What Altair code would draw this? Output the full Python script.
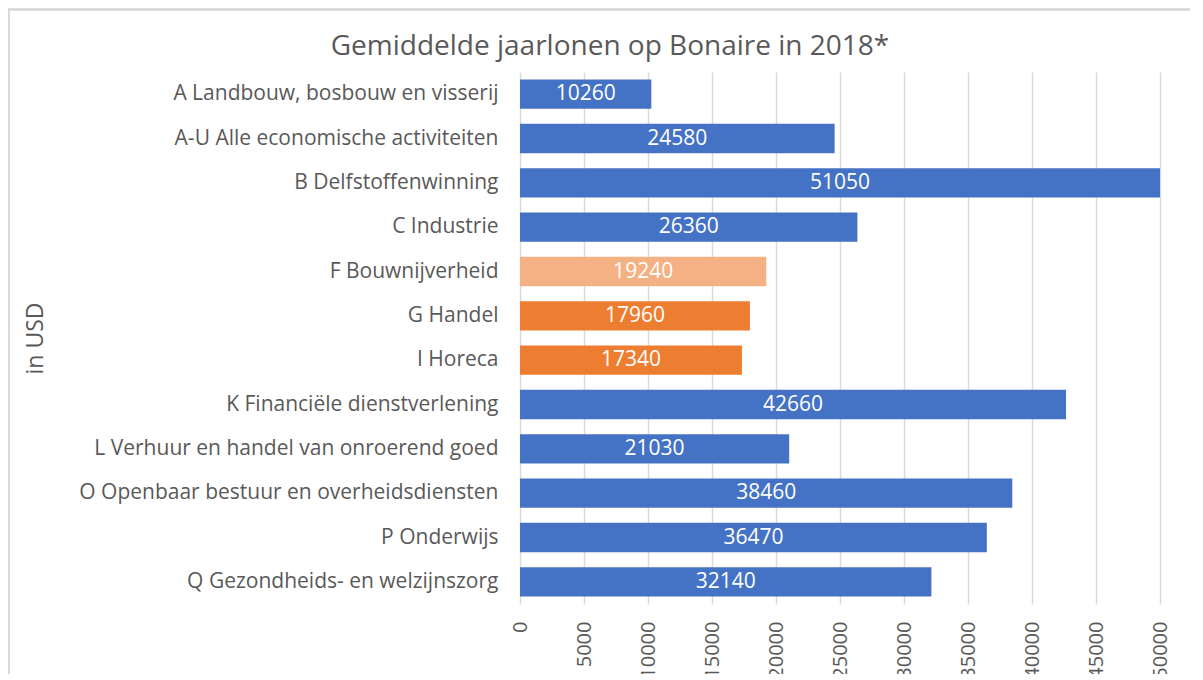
import altair as alt
import pandas as pd

categories = [
    "A Landbouw, bosbouw en visserij",
    "A-U Alle economische activiteiten",
    "B Delfstoffenwinning",
    "C Industrie",
    "F Bouwnijverheid",
    "G Handel",
    "I Horeca",
    "K Financiële dienstverlening",
    "L Verhuur en handel van onroerend goed",
    "O Openbaar bestuur en overheidsdiensten",
    "P Onderwijs",
    "Q Gezondheids- en welzijnszorg",
]
values = [10260, 24580, 51050, 26360, 19240, 17960, 17340, 42660, 21030, 38460, 36470, 32140]
groups = ["b", "b", "b", "b", "l", "o", "o", "b", "b", "b", "b", "b"]
group_domain = ["b", "o", "l"]
group_colors = ["#4472C4", "#ED7D31", "#F4B183"]
x_ticks = [0, 5000, 10000, 15000, 20000, 25000, 30000, 35000, 40000, 45000, 50000]
x_max = 50000

df = pd.DataFrame({"cat": categories, "val": values, "grp": groups})

FONT = "Open Sans"
W, H = 640, 532

base = alt.Chart(df).transform_calculate(
    mid=f"min(datum.val, {x_max}) / 2"
)

y_enc = alt.Y(
    "cat:N",
    sort=categories,
    scale=alt.Scale(paddingInner=0.34, paddingOuter=0.17),
    axis=alt.Axis(
        title="in USD",
        ticks=False,
        domain=False,
        labelPadding=22,
        labelFontSize=21,
        labelColor="#595959",
        labelFont=FONT,
        labelLimit=450,
        titleFont=FONT,
        titleFontSize=23,
        titleFontWeight="normal",
        titleColor="#595959",
        titleX=-485,
        titleY=H / 2,
        titleAlign="center",
        titleBaseline="middle",
        titleAngle=270,
    ),
)

bars = base.mark_bar(clip=True).encode(
    x=alt.X(
        "val:Q",
        scale=alt.Scale(domain=[0, x_max], nice=False, zero=True),
        axis=alt.Axis(
            title=None,
            values=x_ticks,
            labelAngle=270,
            ticks=False,
            domain=False,
            labelPadding=17,
            labelFontSize=20,
            labelColor="#595959",
            labelFont=FONT,
            grid=True,
            gridColor="#D9D9D9",
            gridWidth=1.5,
            format="d",
        ),
    ),
    y=y_enc,
    color=alt.Color("grp:N", scale=alt.Scale(domain=group_domain, range=group_colors), legend=None),
)

labels = base.mark_text(color="white", fontSize=21, font=FONT, baseline="middle").encode(
    x=alt.X("mid:Q"),
    y=alt.Y("cat:N", sort=categories),
    text=alt.Text("val:Q", format="d"),
)

frame = alt.Chart(df).mark_rect(fill=None, stroke="#D9D9D9", strokeWidth=1.5, clip=False).encode(
    x=alt.value(-511.5), x2=alt.value(W + 80), y=alt.value(-62.5), y2=alt.value(H + 120)
)

chart = alt.layer(frame, bars, labels).properties(
    width=W,
    height=H,
    padding={"left": 512, "top": 64, "right": 30, "bottom": 70},
    autosize=alt.AutoSizeParams(type="none"),
    title=alt.TitleParams(
        "Gemiddelde jaarlonen op Bonaire in 2018*",
        font=FONT,
        fontSize=28,
        fontWeight="normal",
        color="#595959",
        anchor="middle",
        baseline="alphabetic",
        dx=-230,
        offset=-74,
    ),
).configure_view(stroke=None)

chart.save("out.html", embed_options={"renderer": "svg", "actions": False})
